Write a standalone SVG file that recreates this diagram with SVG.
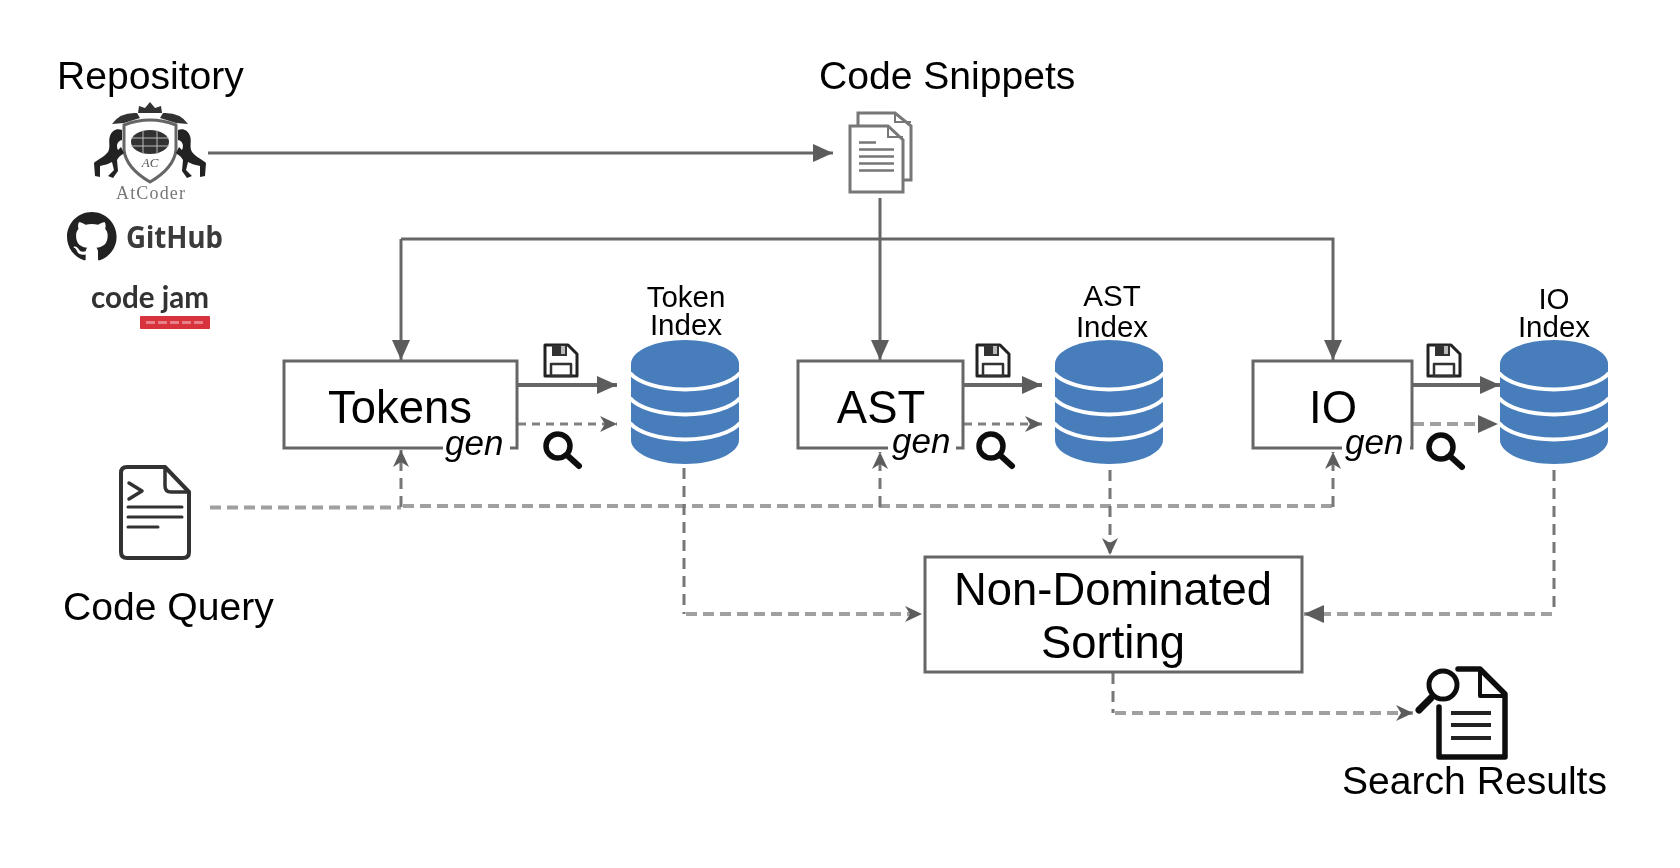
<svg xmlns="http://www.w3.org/2000/svg" xmlns:xlink="http://www.w3.org/1999/xlink" width="1680" height="868" viewBox="0 0 1680 868">
<style>
text{font-family:"Liberation Sans",Arial,sans-serif;fill:#000}
.lbl{font-size:39.1px}
.big{font-size:45.4px;text-anchor:middle}
.idx{font-size:29.5px;text-anchor:middle}
.gen{font-size:35px;font-style:italic}
.box{fill:#fff;stroke:#666;stroke-width:3}
.gap{fill:#fff}
.solid{fill:none;stroke:#666;stroke-width:3}
.solidb{fill:none;stroke:#666;stroke-width:4}
.dh{fill:none;stroke:#a0a0a0;stroke-width:4;stroke-dasharray:11 6}
.dv{fill:none;stroke:#777;stroke-width:3;stroke-dasharray:11 7}
.ds{fill:none;stroke:#808080;stroke-width:3;stroke-dasharray:8 6}
.ico{fill:none;stroke:#111;stroke-linejoin:round;stroke-linecap:round}
</style>
<defs>
<filter id="soft" filterUnits="userSpaceOnUse" x="0" y="0" width="1680" height="868"><feGaussianBlur stdDeviation="0.65"/></filter>
<marker id="tri" markerUnits="userSpaceOnUse" markerWidth="20" markerHeight="18" refX="20" refY="9" orient="auto"><path d="M0,0L20,9L0,18Z" fill="#5c5c5c"/></marker>
<marker id="stealth" markerUnits="userSpaceOnUse" markerWidth="17" markerHeight="16" refX="17" refY="8" orient="auto"><path d="M0,0L17,8L0,16L5,8Z" fill="#5c5c5c"/></marker>
<g id="db">
<path d="M-54,24A54,24 0 0 1 54,24V100C54,113 30,124 0,124C-30,124 -54,113 -54,100Z" fill="#467dbb"/>
<path d="M-55,33A58,24 0 0 0 55,33M-55,58A58,24 0 0 0 55,58M-55,83A58,24 0 0 0 55,83" fill="none" stroke="#fff" stroke-width="4"/>
</g>
<g id="floppy">
<path class="ico" stroke-width="3" d="M2,2H25L34,11V33H2Z" style="stroke:#222"/>
<rect x="9" y="2" width="15" height="11" fill="#333"/><rect x="18" y="3" width="4" height="8" fill="#bbb"/>
<rect class="ico" stroke-width="2.500" x="8" y="21" width="20" height="12" style="stroke:#333"/>
</g>
<g id="lens">
<circle class="ico" cx="0" cy="0" r="12" stroke-width="5.500"/>
<path class="ico" stroke-width="6" d="M10,10L21,20"/>
</g>
<g id="horse">
<path fill="#222" d="M122,130C117,128 112,130 110,136C108,141 111,147 108,152C104,157 97,160 94,163L95,176L100,177L100,166C104,165 109,164 112,162L114,170L108,176L113,178L118,171L117,160C119,156 122,155 124,153L121,147L118,150C116,146 117,141 122,140Z"/>
</g>
</defs>
<rect width="1680" height="868" fill="#fff"/>
<g filter="url(#soft)">
<g id="connectors">
<path class="solid" marker-end="url(#tri)" d="M208,153H833"/>
<path class="solid" marker-end="url(#tri)" d="M880,198V360"/>
<path class="solid" marker-end="url(#tri)" d="M401,239V360"/>
<path class="solid" marker-end="url(#tri)" d="M401,239H1333V360"/>
<path class="solidb" marker-end="url(#tri)" d="M518,385H617"/>
<path class="solidb" marker-end="url(#tri)" d="M964,385H1042"/>
<path class="solidb" marker-end="url(#tri)" d="M1413,385H1500"/>
<path class="ds" marker-end="url(#stealth)" d="M518,424H617"/>
<path class="ds" marker-end="url(#stealth)" d="M964,424H1042"/>
<path class="dh" marker-end="url(#tri)" d="M1413,424H1498"/>
<path class="dh" d="M210,507.500H401"/>
<path class="dh" d="M403,506H1333"/>
<path class="dv" marker-end="url(#stealth)" d="M401,507V450"/>
<path class="dv" marker-end="url(#stealth)" d="M880,507V452"/>
<path class="dv" marker-end="url(#stealth)" d="M1333,507V452"/>
<path class="dv" marker-end="url(#stealth)" d="M1110,470V555"/>
<path class="dv" d="M684,468V614"/>
<path class="dh" marker-end="url(#stealth)" d="M686,614H922"/>
<path class="dv" d="M1554,470V614"/>
<path class="dh" marker-end="url(#tri)" d="M1552,614H1304"/>
<path class="dv" d="M1113,673V713"/>
<path class="dh" marker-end="url(#stealth)" d="M1115,713H1413"/>
</g>
<g id="repository">
<text class="lbl" x="57" y="89">Repository</text>
<path fill="#333" d="M138,113L139,106L145,108L150,102L155,108L161,106L162,113ZM112,124Q120,112 137,113L140,118L124,123ZM188,124Q180,112 163,113L160,118L176,123Z"/>
<path fill="none" stroke="#666" stroke-width="3" d="M124,125Q150,115 176,125V150Q174,168 150,182Q126,168 124,150Z"/>
<ellipse cx="150" cy="142" rx="19" ry="12" fill="#333"/>
<path fill="none" stroke="#bbb" stroke-width="1" d="M131,138H169M131,146H169M143,130V154M157,130V154"/>
<text x="150" y="167" text-anchor="middle" style="font-family:'Liberation Serif',serif;font-size:13px;font-style:italic;fill:#555">AC</text>
<use xlink:href="#horse" href="#horse"/>
<use xlink:href="#horse" href="#horse" transform="translate(300,0) scale(-1,1)"/>
<text x="116" y="199" style="font-family:'Liberation Serif',serif;font-size:18px;fill:#777" textLength="69">AtCoder</text>
<path transform="translate(67,212) scale(3.1)" fill="#222" d="M8 0C3.58 0 0 3.58 0 8c0 3.54 2.29 6.53 5.47 7.59.4.07.55-.17.55-.38 0-.19-.01-.82-.01-1.49-2.01.37-2.53-.49-2.69-.94-.09-.23-.48-.94-.82-1.13-.28-.15-.68-.52-.01-.53.63-.01 1.08.58 1.23.82.72 1.21 1.87.87 2.33.66.07-.52.28-.87.51-1.07-1.78-.2-3.64-.89-3.64-3.95 0-.87.31-1.59.82-2.15-.08-.2-.36-1.02.08-2.12 0 0 .67-.21 2.2.82.64-.18 1.32-.27 2-.27.68 0 1.36.09 2 .27 1.53-1.04 2.2-.82 2.2-.82.44 1.1.16 1.92.08 2.12.51.56.82 1.27.82 2.15 0 3.07-1.87 3.75-3.65 3.95.29.25.54.73.54 1.48 0 1.07-.01 1.93-.01 2.2 0 .21.15.46.55.38A8.013 8.013 0 0016 8c0-4.42-3.58-8-8-8z"/>
<text x="126" y="248" style="font-family:'Noto Sans',sans-serif;font-size:31px;font-weight:700;fill:#3a3a3a" textLength="97" lengthAdjust="spacingAndGlyphs">GitHub</text>
<text x="91" y="308" style="font-family:Lato,sans-serif;font-size:31px;font-weight:700;fill:#333" textLength="118" lengthAdjust="spacingAndGlyphs">code jam</text>
<rect x="140" y="316" width="70" height="13" rx="1" fill="#d8323e"/>
<path d="M146,322.500H203" stroke="#e88088" stroke-width="3" stroke-dasharray="9 3"/>
</g>
<g id="code-snippets">
<text class="lbl" x="819" y="89">Code Snippets</text>
<path fill="#fff" stroke="#777" stroke-width="3" d="M858,125V113H895L911,126V180H900"/>
<path fill="none" stroke="#777" stroke-width="2" d="M895,113V122H911"/>
<path fill="#fff" stroke="#777" stroke-width="3" d="M850,126H888L903,140V192H850Z"/>
<path fill="none" stroke="#777" stroke-width="2" d="M888,126V137H903"/>
<path fill="none" stroke="#777" stroke-width="2.500" d="M859,142.500H876M859,149.500H894M859,156.500H894M859,163.500H894M859,170.500H894"/>
</g>
<g id="tokens">
<rect class="box" x="284" y="361" width="233" height="87"/>
<rect class="gap" x="443" y="440" width="67" height="14"/>
<text class="big" x="400" y="423">Tokens</text>
<text class="gen" x="445" y="455">gen</text>
<use xlink:href="#floppy" href="#floppy" x="543" y="343"/>
<use xlink:href="#lens" href="#lens" x="558" y="446"/>
</g>
<g id="token-index">
<text class="idx" x="686" y="307">Token</text>
<text class="idx" x="686" y="335">Index</text>
<use xlink:href="#db" href="#db" x="685" y="340"/>
</g>
<g id="ast">
<rect class="box" x="798" y="361" width="165" height="87"/>
<rect class="gap" x="888" y="440" width="68" height="14"/>
<text class="big" x="881" y="423">AST</text>
<text class="gen" x="892" y="453">gen</text>
<use xlink:href="#floppy" href="#floppy" x="975" y="343"/>
<use xlink:href="#lens" href="#lens" x="991" y="446"/>
</g>
<g id="ast-index">
<text class="idx" x="1112" y="306">AST</text>
<text class="idx" x="1112" y="337">Index</text>
<use xlink:href="#db" href="#db" x="1109" y="340"/>
</g>
<g id="io">
<rect class="box" x="1253" y="361" width="159" height="87"/>
<rect class="gap" x="1342" y="440" width="68" height="14"/>
<text class="big" x="1333" y="423">IO</text>
<text class="gen" x="1345" y="454">gen</text>
<use xlink:href="#floppy" href="#floppy" x="1426" y="343"/>
<use xlink:href="#lens" href="#lens" x="1441" y="447"/>
</g>
<g id="io-index">
<text class="idx" x="1554" y="309">IO</text>
<text class="idx" x="1554" y="337">Index</text>
<use xlink:href="#db" href="#db" x="1554" y="340"/>
</g>
<g id="code-query">
<path class="ico" stroke-width="4" d="M127,467H165L189,492V552Q189,558 183,558H127Q121,558 121,552V473Q121,467 127,467Z" style="stroke:#333"/>
<path class="ico" stroke-width="3.500" d="M165,467V486Q165,492 171,492H189M129,483L142,491L129,499" style="stroke:#333"/>
<path class="ico" stroke-width="3" d="M128,507H182M128,517H182M128,527H158" style="stroke:#333"/>
<text class="lbl" x="63" y="620">Code Query</text>
</g>
<g id="non-dominated-sorting">
<rect class="box" x="925" y="557" width="377" height="115"/>
<text class="big" x="1113" y="605">Non-Dominated</text>
<text class="big" x="1113" y="658">Sorting</text>
</g>
<g id="search-results">
<path class="ico" stroke-width="5.500" d="M1458,669H1480L1505,694V757H1439V707"/>
<path class="ico" stroke-width="4" d="M1480,671V696H1503"/>
<path class="ico" stroke-width="4" style="stroke-linecap:butt;stroke:#222" d="M1451,713H1491M1451,725H1491M1451,738H1491"/>
<circle class="ico" cx="1443" cy="685" r="14" stroke-width="5"/>
<path class="ico" stroke-width="7" d="M1431,698L1419,710"/>
<text class="lbl" x="1342" y="794">Search Results</text>
</g>
</g>
</svg>
